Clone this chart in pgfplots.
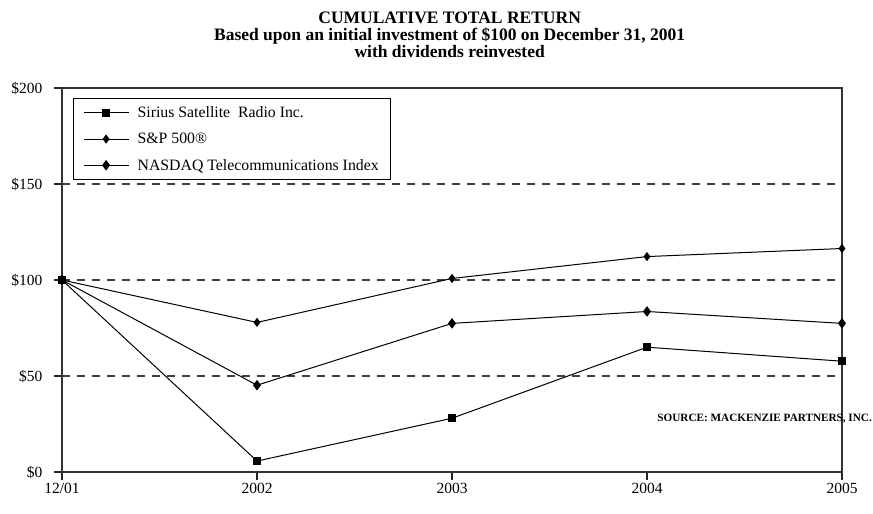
\documentclass[border=0pt]{standalone}
\usepackage{fontspec}
\setmainfont{Liberation Serif}
\usepackage{pgfplots}
\pgfplotsset{compat=1.18}
\begin{document}
\begin{tikzpicture}
\begin{axis}[
  scale only axis, width=780pt, height=384pt,
  xmin=0, xmax=4, ymin=0, ymax=200,
  xtick={0,1,2,3,4}, xticklabels={12/01,2002,2003,2004,2005},
  ytick={0,50,100,150,200}, yticklabels={\$0,\$50,\$100,\$150,\$200},
  xtick pos=lower, ytick pos=left,
  tick align=outside, major tick length=8pt,
  every tick/.style={line width=1.3pt, black!85},
  tick label style={font=\fontsize{15.5}{18}\selectfont},
  yticklabel style={xshift=-8pt},
  axis line style={line width=1.4pt, black!80},
  extra y ticks={50,100,150}, extra y tick labels={},
  extra y tick style={grid=major, major tick length=0pt},
  major grid style={line width=1.2pt, black!75, dash pattern=on 8pt off 7pt},
  clip=false,
  title={CUMULATIVE TOTAL RETURN\\Based upon an initial investment of \$100 on December 31, 2001\\with dividends reinvested},
  title style={at={(0.497,1)}, anchor=center, yshift=47pt, align=center,
    font=\fontsize{17.5}{17}\selectfont\bfseries},
  legend style={at={(0.0141,0.974)}, anchor=north west, draw=black, line width=1.2pt,
    font=\fontsize{15.8}{18}\selectfont, row sep=10pt, inner xsep=10pt, inner ysep=6pt},
  legend cell align=left,
  legend image code/.code={\draw[mark repeat=2,mark phase=2] plot coordinates {(0pt,0pt) (22pt,0pt) (45pt,0pt)}; \path (51pt,0pt);},
]
\addplot[black, line width=1pt, mark=square*, mark size=3.5pt, mark options={solid}]
  coordinates {(0,100) (1,5.7) (2,28) (3,65) (4,57.7)};
\addlegendentry{Sirius Satellite\ \ Radio Inc.}
\addplot[black, line width=1pt, mark=diamond*, mark size=3.8pt, mark options={solid}]
  coordinates {(0,100) (1,77.9) (2,100.8) (3,112.2) (4,116.4)};
\addlegendentry{S\&P 500®}
\addplot[black, line width=1pt, mark=diamond*, mark size=4.5pt, mark options={solid}]
  coordinates {(0,100) (1,45.2) (2,77.4) (3,83.6) (4,77.4)};
\addlegendentry{NASDAQ Telecommunications Index}
\node[anchor=east, font=\fontsize{11.2}{13}\selectfont\bfseries, inner sep=0pt]
  at (axis cs:4.154,27.8) {SOURCE: MACKENZIE PARTNERS, INC.};
\end{axis}
\path[use as bounding box] (-62pt,-42pt) rectangle (811pt,472pt);
\end{tikzpicture}
\end{document}
